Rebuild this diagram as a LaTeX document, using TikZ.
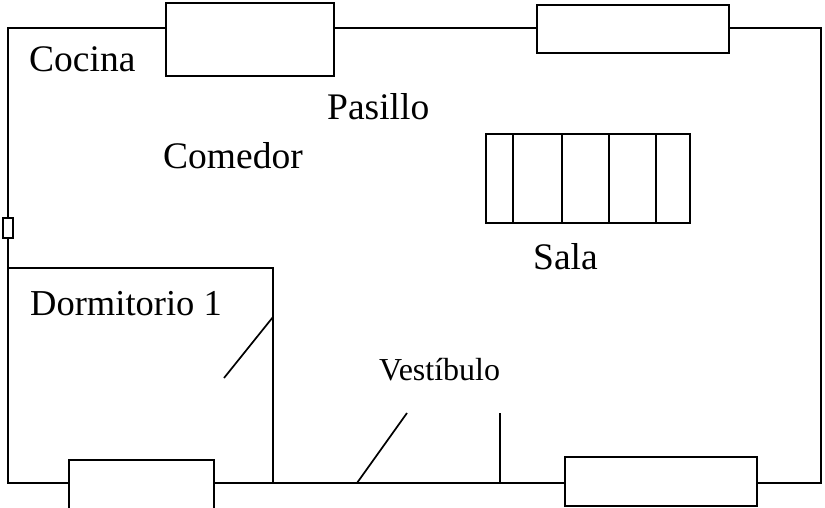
\documentclass[tikz,border=0pt]{standalone}
\usepackage{fontspec}
\setmainfont{Liberation Serif}
\begin{document}
\begin{tikzpicture}[x=1pt,y=-1pt,
  wall/.style={line width=1.7pt},
  label/.style={font=\fontsize{37.5}{40}\selectfont,anchor=base west,inner sep=0pt}]
\useasboundingbox (0,0) rectangle (825,508);
% outer walls
\draw[wall] (166,28) -- (8,28) -- (8,483) -- (69,483);
\draw[wall] (334,28) -- (537,28);
\draw[wall] (729,28) -- (821,28) -- (821,483) -- (757,483);
\draw[wall] (214,483) -- (565,483);
% windows
\draw[wall,fill=white] (166,3) rectangle (334,76);
\draw[wall,fill=white] (537,5) rectangle (729,53);
\draw[wall] (69,508) -- (69,460) -- (214,460) -- (214,508);
\draw[wall,fill=white] (565,457) rectangle (757,506);
\draw[wall,line width=2pt,fill=white] (3,218) rectangle (13,238);
% dormitorio
\draw[wall] (8,268) -- (273,268) -- (273,483);
\draw[wall] (273,317) -- (224,378);
% sofa
\draw[wall] (486,134) rectangle (690,223);
\foreach \x in {513,562,609,656}
  \draw[wall] (\x,134) -- (\x,223);
% doors
\draw[wall] (357,483) -- (407,413);
\draw[wall,line width=2pt] (500,413) -- (500,483);
\draw[wall,line width=2.4pt] (450,483) -- (500,483);
% labels
\node[label] (cocina) at (29,72) {Cocina};
\node[label] (pasillo) at (327,120) {Pasillo};
\node[label] (comedor) at (163,168) {Comedor};
\node[label] (sala) at (533,269) {Sala};
\node[label,font=\fontsize{36.5}{40}\selectfont] (dorm) at (30,315) {Dormitorio 1};
\node[label,font=\fontsize{32}{35}\selectfont] (vest) at (379,380) {Vestíbulo};
\end{tikzpicture}
\end{document}
